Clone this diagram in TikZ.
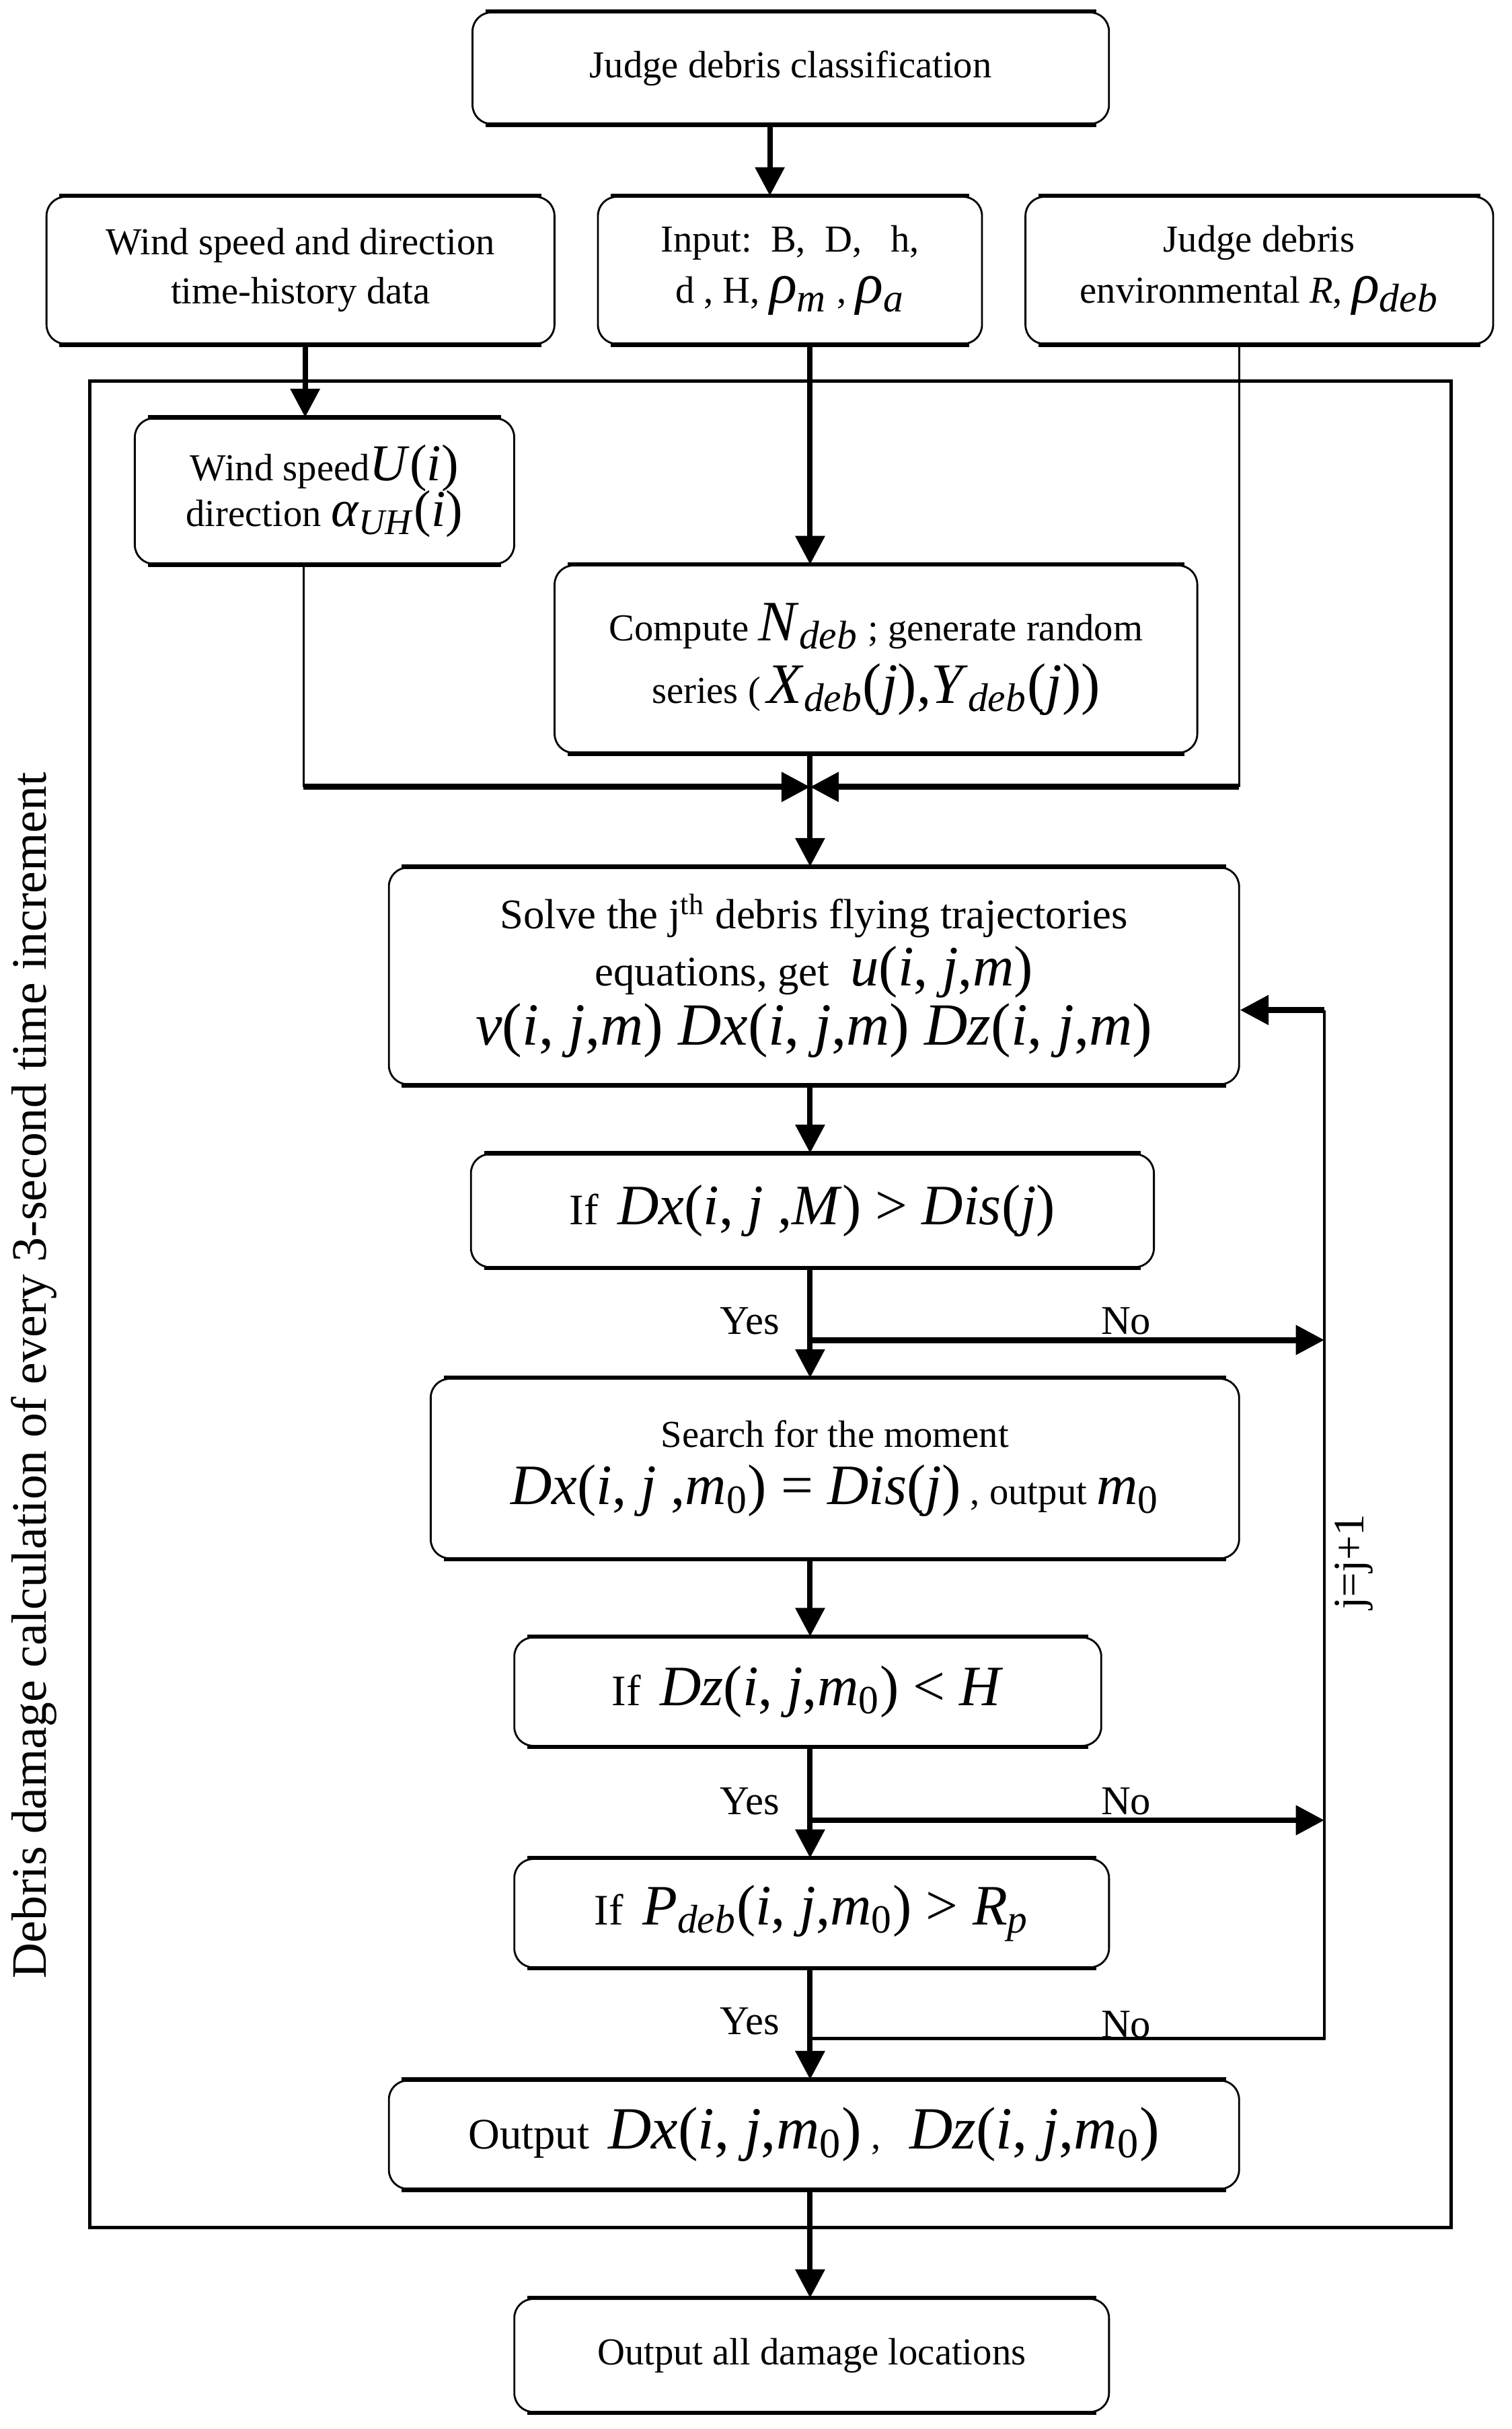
\documentclass[tikz,border=0pt]{standalone}
\usepackage{fontspec}
\setmainfont{Liberation Serif}
\usetikzlibrary{arrows.meta,calc}
\newcommand\BM{\fontsize{21}{23}\selectfont}
\newcommand\BW{\fontsize{19}{21}\selectfont}
\newcommand\BG{\fontsize{22}{24}\selectfont}
\newcommand\SM{\fontsize{16}{18}\selectfont}
\newcommand\I[1]{\textit{#1}}
\newcommand\SB[1]{\textsubscript{\textit{#1}}}
\begin{document}
\begin{tikzpicture}[x=0.02cm,y=-0.02cm,
  box/.style={draw, line width=0.7pt, rounded corners=7pt, align=center, inner sep=2pt,
    font=\fontsize{14}{18}\selectfont},
  tbline/.style={line width=1.6pt},
  tip/.style={-{Triangle[length=10.5pt,width=10.5pt]}},
  arr/.style={line width=2pt, tip},
  thinln/.style={line width=0.8pt},
  thickln/.style={line width=2.2pt},
  lbl/.style={font=\fontsize{15}{17}\selectfont, inner sep=1pt}]
\useasboundingbox (0,0) rectangle (976,1568);

% frame
\draw[line width=1.2pt] (58,246) rectangle (937,1438);

% boxes
\node[box, minimum width=8.22cm, minimum height=1.44cm] (top) at (510.5,44) {Judge debris classification};
\node[box, minimum width=6.56cm, minimum height=1.9cm] (wind) at (194,174.5) {Wind speed and direction\\time-history data};
\node[box, minimum width=4.96cm, minimum height=1.9cm] (in) at (510,174.5) {Input:\ \ B,\ \ D,\ \ \ h,\\[1pt] d\ , H,\ {\BM\I{ρ}\SB{m}}\ ,\ {\BM\I{ρ}\SB{a}}};
\node[box, minimum width=6.04cm, minimum height=1.9cm] (env) at (813,174.5) {Judge debris\\[1pt] environmental \I{R}, {\BM\I{ρ}\SB{deb}}};
\node[box, minimum width=4.9cm, minimum height=1.88cm] (ws) at (209.5,317) {Wind speed{\BW\I{U}(\I{i})}\\[-1pt] direction {\BW\I{α}\SB{UH}(\I{i})}};
\node[box, minimum width=8.3cm, minimum height=2.42cm] (comp) at (565.5,425.5) {Compute {\BM\I{N}\SB{deb}} ; generate random\\[5pt] series (\,{\BM\I{X}\SB{deb}(\I{j}),\I{Y}\SB{deb}(\I{j}))}};
\node[box, minimum width=10.98cm, minimum height=2.8cm, font=\fontsize{15.5}{18}\selectfont] (solve) at (525.5,630) {Solve the j\textsuperscript{th} debris flying trajectories\\[3pt] equations, get\ \ {\BM\I{u}(\I{i}, \I{j},\I{m})}\\[1pt] {\BG\I{v}(\I{i}, \I{j},\I{m}) \I{Dx}(\I{i}, \I{j},\I{m}) \I{Dz}(\I{i}, \I{j},\I{m})}};
\node[box, minimum width=8.82cm, minimum height=1.46cm] (ifdx) at (524.5,781.5) {{\SM If}\ \ {\BM\I{Dx}(\I{i}, \I{j} ,\I{M}) > \I{Dis}(\I{j})}};
\node[box, minimum width=10.44cm, minimum height=2.32cm] (search) at (539,948) {Search for the moment\\[3pt] {\BM\I{Dx}(\I{i}, \I{j} ,\I{m}\textsubscript{0}) = \I{Dis}(\I{j})} , output {\BM\I{m}\textsubscript{0}}};
\node[box, minimum width=7.58cm, minimum height=1.4cm] (ifdz) at (521.5,1092) {{\SM If}\ \ {\BM\I{Dz}(\I{i}, \I{j},\I{m}\textsubscript{0}) < \I{H}}};
\node[box, minimum width=7.68cm, minimum height=1.4cm] (ifp) at (524,1235) {{\SM If}\ \ {\BM\I{P}\SB{deb}(\I{i}, \I{j},\I{m}\textsubscript{0}) > \I{R}\SB{p}}};
\node[box, minimum width=10.98cm, minimum height=1.4cm] (out) at (525.5,1378) {{\SM Output}\ \ {\BG\I{Dx}(\I{i}, \I{j},\I{m}\textsubscript{0})}\ ,\ \ \ {\BG\I{Dz}(\I{i}, \I{j},\I{m}\textsubscript{0})}};
\node[box, minimum width=7.68cm, minimum height=1.46cm] (final) at (524,1520.5) {Output all damage locations};

% thick top and bottom edges
\foreach \n in {top,wind,in,env,ws,comp,solve,ifdx,search,ifdz,ifp,out,final}{
  \draw[tbline] ($(\n.north west)+(9,0)$) -- ($(\n.north east)+(-9,0)$);
  \draw[tbline] ($(\n.south west)+(9,0)$) -- ($(\n.south east)+(-9,0)$);
}

% helper coordinates
\coordinate (xA) at (497,0);
\coordinate (xW) at (197,0);
\coordinate (xS) at (523,0);
\coordinate (xL) at (196,0);
\coordinate (xR) at (800,0);
\coordinate (xLoop) at (855,0);
\coordinate (J) at (523,508);
\coordinate (b1) at (523,865);
\coordinate (b2) at (523,1175);
\coordinate (b3) at (523,1316);
\coordinate (back) at (855,652);

% connectors
\draw[arr] (top.south -| xA) -- (in.north -| xA);
\draw[arr] (wind.south -| xW) -- (ws.north -| xW);
\draw[arr] (in.south -| xS) -- (comp.north -| xS);
\draw[thinln] (ws.south -| xL) -- (xL |- J);
\draw[thickln, tip] (xL |- J) -- (J);
\draw[thinln] (env.south -| xR) -- (xR |- J);
\draw[thickln, tip] (xR |- J) -- (J);
\draw[arr] (comp.south -| xS) -- (solve.north -| xS);
\draw[arr] (solve.south -| xS) -- (ifdx.north -| xS);
\draw[arr] (ifdx.south -| xS) -- (search.north -| xS);
\draw[thickln, tip] (b1) -- (xLoop |- b1);
\draw[arr] (search.south -| xS) -- (ifdz.north -| xS);
\draw[arr] (ifdz.south -| xS) -- (ifp.north -| xS);
\draw[thickln, tip] (b2) -- (xLoop |- b2);
\draw[arr] (ifp.south -| xS) -- (out.north -| xS);
\draw[line width=1.1pt] (b3) -- (xLoop |- b3) -- (back);
\draw[thickln, tip] (back) -- (solve.east |- back);
\draw[arr] (out.south -| xS) -- (final.north -| xS);

% labels
\node[lbl] (y1) at (484,853) {Yes};
\node[lbl] (n1) at (727,853) {No};
\node[lbl] (y2) at (484,1163) {Yes};
\node[lbl] (n2) at (727,1163) {No};
\node[lbl] (y3) at (484,1305) {Yes};
\node[lbl] (n3) at (727,1307) {No};
\node[font=\fontsize{16}{18}\selectfont, rotate=90] (jj) at (874,1008) {j=j+1};
\node[font=\fontsize{18.2}{20}\selectfont, rotate=90] (side) at (22,888) {Debris damage calculation of every 3-second time increment};
\end{tikzpicture}
\end{document}
